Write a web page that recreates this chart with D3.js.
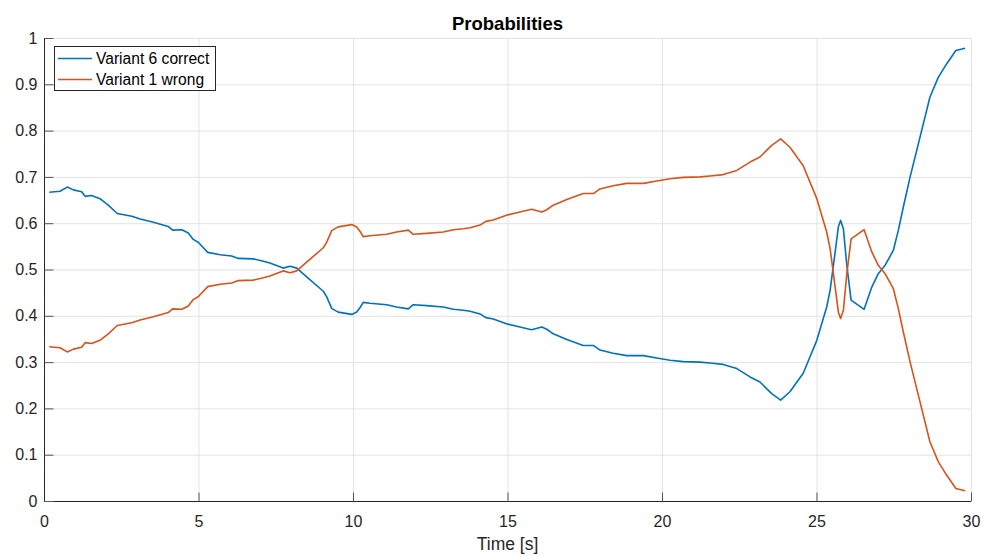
<!DOCTYPE html>
<html>
<head>
<meta charset="utf-8">
<script src="https://cdn.jsdelivr.net/npm/d3@7"></script>
<style>
  html, body { margin: 0; padding: 0; background: #fff; }
  svg { display: block; font-family: "Liberation Sans", Arial, Helvetica, sans-serif; }
</style>
</head>
<body>
<svg id="chart" width="983" height="556"></svg>
<script>
// Time stamps [s]
const time = [
  0.17, 0.52, 0.75, 0.95, 1.22, 1.33, 1.54, 1.81, 2.08, 2.37,
  2.84, 3.11, 3.54, 4.02, 4.16, 4.46, 4.67, 4.83, 4.99, 5.30,
  5.70, 6.07, 6.29, 6.77, 7.10, 7.31, 7.74, 7.96, 8.18, 8.50,
  9.04, 9.15, 9.31, 9.52, 9.96, 10.12, 10.23, 10.33, 10.55, 11.09,
  11.41, 11.79, 11.95, 12.38, 12.92, 13.25, 13.57, 13.79, 14.11, 14.30,
  14.54, 15.01, 15.40, 15.78, 16.11, 16.27, 16.48, 16.92, 17.45, 17.78,
  17.99, 18.42, 18.86, 19.40, 19.83, 20.26, 20.69, 21.23, 21.55, 21.98,
  22.42, 22.85, 23.17, 23.55, 23.84, 24.14, 24.57, 25.01, 25.33, 25.44,
  25.54, 25.71, 25.78, 25.87, 25.98, 26.12, 26.54, 26.79, 27.00, 27.22,
  27.49, 27.65, 27.81, 28.03, 28.35, 28.67, 28.94, 29.21, 29.51, 29.81
];

// Probability of "Variant 6 correct"
const correct = [
  0.667, 0.669, 0.678, 0.672, 0.668, 0.658, 0.660, 0.653, 0.639, 0.621,
  0.615, 0.609, 0.602, 0.593, 0.585, 0.586, 0.579, 0.565, 0.559, 0.537,
  0.532, 0.529, 0.524, 0.523, 0.518, 0.514, 0.503, 0.507, 0.503, 0.484,
  0.453, 0.441, 0.416, 0.408, 0.403, 0.408, 0.418, 0.429, 0.427, 0.424,
  0.419, 0.415, 0.424, 0.422, 0.419, 0.414, 0.412, 0.410, 0.404, 0.396,
  0.393, 0.382, 0.376, 0.370, 0.376, 0.371, 0.361, 0.349, 0.336, 0.336,
  0.326, 0.319, 0.314, 0.314, 0.309, 0.304, 0.301, 0.300, 0.298, 0.295,
  0.286, 0.268, 0.257, 0.232, 0.218, 0.236, 0.276, 0.347, 0.419, 0.455,
  0.505, 0.593, 0.606, 0.588, 0.510, 0.434, 0.414, 0.462, 0.491, 0.509,
  0.542, 0.585, 0.635, 0.700, 0.786, 0.872, 0.915, 0.944, 0.973, 0.978
];

// Probability of "Variant 1 wrong"
const wrong = [
  0.333, 0.331, 0.322, 0.328, 0.332, 0.342, 0.340, 0.347, 0.361, 0.379,
  0.385, 0.391, 0.398, 0.407, 0.415, 0.414, 0.421, 0.435, 0.441, 0.463,
  0.468, 0.471, 0.476, 0.477, 0.482, 0.486, 0.497, 0.493, 0.497, 0.516,
  0.547, 0.559, 0.584, 0.592, 0.597, 0.592, 0.582, 0.571, 0.573, 0.576,
  0.581, 0.585, 0.576, 0.578, 0.581, 0.586, 0.588, 0.590, 0.596, 0.604,
  0.607, 0.618, 0.624, 0.630, 0.624, 0.629, 0.639, 0.651, 0.664, 0.664,
  0.674, 0.681, 0.686, 0.686, 0.691, 0.696, 0.699, 0.700, 0.702, 0.705,
  0.714, 0.732, 0.743, 0.768, 0.782, 0.764, 0.724, 0.653, 0.581, 0.545,
  0.495, 0.407, 0.394, 0.412, 0.490, 0.566, 0.586, 0.538, 0.509, 0.491,
  0.458, 0.415, 0.365, 0.300, 0.214, 0.128, 0.085, 0.056, 0.027, 0.022
];

const xTicks = [0, 5, 10, 15, 20, 25, 30];
const yTicks = [0, 0.1, 0.2, 0.3, 0.4, 0.5, 0.6, 0.7, 0.8, 0.9, 1];
const seriesNames = ["Variant 6 correct", "Variant 1 wrong"];
const seriesColors = ["#0072BD", "#D95319"];

const svg = d3.select("#chart");
const margin = { left: 44, top: 38 };
const plotW = 971 - margin.left;
const plotH = 501 - margin.top;

const x = d3.scaleLinear().domain([0, 30]).range([margin.left, margin.left + plotW]);
const y = d3.scaleLinear().domain([0, 1]).range([margin.top + plotH, margin.top]);

const axisColor = "#262626";
const gridColor = "#e3e3e3";
const fontStack = "'Liberation Sans', Arial, Helvetica, sans-serif";

// Grid
const grid = svg.append("g");
grid.selectAll("line.gx").data(xTicks).join("line")
  .attr("x1", d => x(d) + 0.5).attr("x2", d => x(d) + 0.5)
  .attr("y1", y(0)).attr("y2", y(1))
  .attr("stroke", gridColor).attr("stroke-width", 1);
grid.selectAll("line.gy").data(yTicks).join("line")
  .attr("x1", x(0)).attr("x2", x(30))
  .attr("y1", d => y(d) + 0.5).attr("y2", d => y(d) + 0.5)
  .attr("stroke", gridColor).attr("stroke-width", 1);

// Axes with inward ticks
const xAxis = d3.axisBottom(x).tickValues(xTicks).tickSize(-9).tickPadding(14).tickFormat(d3.format("d"));
const yAxis = d3.axisLeft(y).tickValues(yTicks).tickSize(-9).tickPadding(7)
  .tickFormat(d => d === 0 || d === 1 ? String(d) : d3.format(".1f")(d));

const gx = svg.append("g").attr("transform", `translate(0,${y(0) + 0.5})`).call(xAxis);
const gy = svg.append("g").attr("transform", `translate(${x(0) + 0.5},0)`).call(yAxis);

[gx, gy].forEach(g => {
  g.select(".domain").attr("stroke", axisColor).attr("stroke-width", 1);
  g.selectAll(".tick line").attr("stroke", "#555").attr("stroke-width", 1);
  g.selectAll(".tick text").attr("fill", axisColor)
    .style("font-size", "16px")
    .style("font-family", fontStack);
});
gx.select(".domain").attr("d", `M${x(0)},0H${x(30)}`);
gy.select(".domain").attr("d", `M0,${y(0)}V${y(1)}`);

// Lines
const seriesData = [correct, wrong];
const line = d3.line()
  .x((d, i) => x(time[i]))
  .y(d => y(d));

svg.append("g").selectAll("path.series").data(seriesData).join("path")
  .attr("class", "series")
  .attr("d", d => line(d))
  .attr("fill", "none")
  .attr("stroke", (d, i) => seriesColors[i])
  .attr("stroke-width", 1.6)
  .attr("stroke-linejoin", "round");

// Title and axis label
svg.append("text")
  .attr("x", (x(0) + x(30)) / 2).attr("y", 30)
  .attr("text-anchor", "middle")
  .attr("font-weight", "bold")
  .attr("font-size", 18.5)
  .attr("fill", "#000")
  .text("Probabilities");

svg.append("text")
  .attr("x", (x(0) + x(30)) / 2).attr("y", 550)
  .attr("text-anchor", "middle")
  .attr("font-size", 17.5)
  .attr("fill", axisColor)
  .text("Time [s]");

// Legend
const legend = svg.append("g").attr("transform", "translate(54.5,46.5)");
legend.append("rect")
  .attr("width", 161).attr("height", 44)
  .attr("fill", "#fff").attr("stroke", axisColor).attr("stroke-width", 1);
seriesNames.forEach((name, i) => {
  const cy = 12 + i * 21;
  legend.append("line")
    .attr("x1", 3.5).attr("x2", 37.5).attr("y1", cy).attr("y2", cy)
    .attr("stroke", seriesColors[i]).attr("stroke-width", 1.6);
  legend.append("text")
    .attr("x", 41.5).attr("y", cy + 5.5)
    .attr("font-size", 15.6)
    .attr("fill", "#000")
    .text(name);
});
</script>
</body>
</html>
